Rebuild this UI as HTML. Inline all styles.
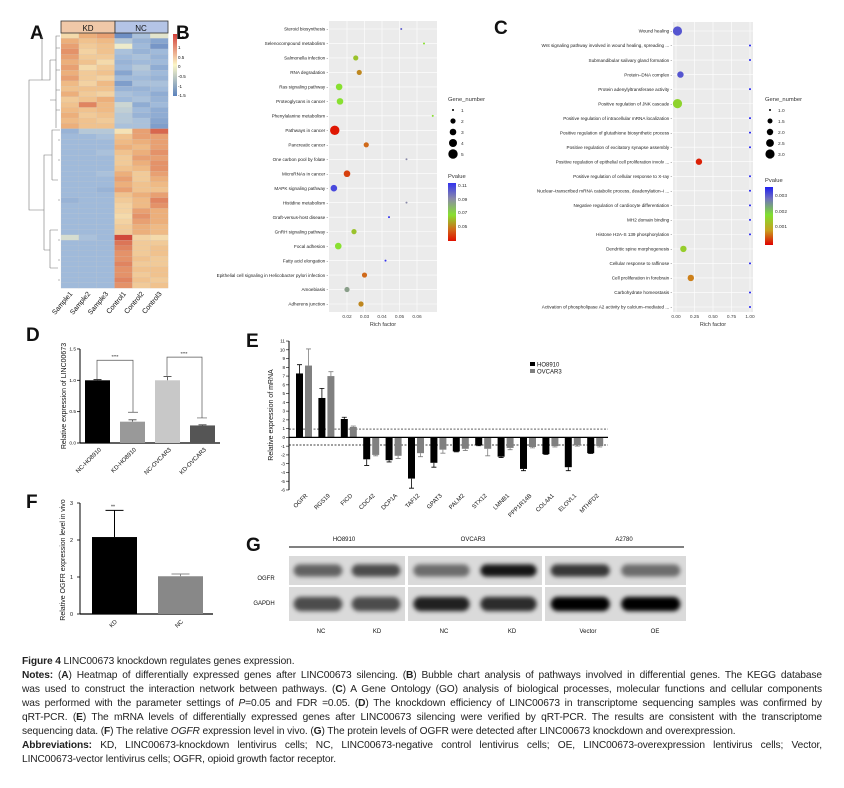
<!DOCTYPE html>
<html><head><meta charset="utf-8">
<style>
body{margin:0;background:#fff;}
#root{position:relative;width:844px;height:788px;overflow:hidden;background:#fff;font-family:"Liberation Sans",sans-serif;}
svg text{font-family:"Liberation Sans",sans-serif;}
.cap{position:absolute;left:22px;width:800px;font-size:10.2px;line-height:14px;color:#222;white-space:nowrap;overflow:hidden;letter-spacing:-0.1px;}
.j{text-align:justify;text-align-last:justify;white-space:normal;height:14px;}
</style></head>
<body>
<div id="root">
<svg id="fig" width="844" height="645" viewBox="0 0 844 645" style="position:absolute;left:0;top:0">
<defs>
<filter id="blur" x="-20%" y="-50%" width="140%" height="200%"><feGaussianBlur stdDeviation="2.2"/></filter>
<linearGradient id="hmgrad" x1="0" y1="0" x2="0" y2="1"><stop offset="0" stop-color="#d3403a"/><stop offset="0.5" stop-color="#fbf6c6"/><stop offset="1" stop-color="#5b82bd"/></linearGradient>
<linearGradient id="bgrad" x1="0" y1="0" x2="0" y2="1"><stop offset="0" stop-color="#3333ee"/><stop offset="0.27" stop-color="#8a8aa8"/><stop offset="0.55" stop-color="#88e030"/><stop offset="0.8" stop-color="#d06a1a"/><stop offset="1" stop-color="#e01000"/></linearGradient>
<linearGradient id="cgrad" x1="0" y1="0" x2="0" y2="1"><stop offset="0" stop-color="#2020f0"/><stop offset="0.2" stop-color="#7070c0"/><stop offset="0.48" stop-color="#80e030"/><stop offset="0.75" stop-color="#c8a020"/><stop offset="1" stop-color="#e00000"/></linearGradient>
</defs>
</svg>
<div class="cap" style="top:655px"><b>Figure 4</b> LINC00673 knockdown regulates genes expression.</div>
<div class="cap j" style="top:669px"><b>Notes:</b> (<b>A</b>) Heatmap of differentially expressed genes after LINC00673 silencing. (<b>B</b>) Bubble chart analysis of pathways involved in differential genes. The KEGG database</div>
<div class="cap j" style="top:683px">was used to construct the interaction network between pathways. (<b>C</b>) A Gene Ontology (GO) analysis of biological processes, molecular functions and cellular components</div>
<div class="cap j" style="top:697px">was performed with the parameter settings of <i>P</i>=0.05 and FDR =0.05. (<b>D</b>) The knockdown efficiency of LINC00673 in transcriptome sequencing samples was confirmed by</div>
<div class="cap j" style="top:711px">qRT-PCR. (<b>E</b>) The mRNA levels of differentially expressed genes after LINC00673 silencing were verified by qRT-PCR. The results are consistent with the transcriptome</div>
<div class="cap" style="top:725px">sequencing data. (<b>F</b>) The relative <i>OGFR</i> expression level in vivo. (<b>G</b>) The protein levels of OGFR were detected after LINC00673 knockdown and overexpression.</div>
<div class="cap j" style="top:739px"><b>Abbreviations:</b> KD, LINC00673-knockdown lentivirus cells; NC, LINC00673-negative control lentivirus cells; OE, LINC00673-overexpression lentivirus cells; Vector,</div>
<div class="cap" style="top:753px">LINC00673-vector lentivirus cells; OGFR, opioid growth factor receptor.</div>
</div>
<script>
// ---------- DATA ----------
const hmSamples = ["Sample1","Sample2","Sample3","Control1","Control2","Control3"];
const hmRows = [
[0.3,0.8,0.9,-1.4,-0.7,-0.2],[0.8,0.6,0.7,-0.6,-0.9,-1.1],[0.9,0.5,0.6,-0.1,-0.8,-1.3],[1.0,0.4,0.6,-0.7,-0.9,-0.8],
[0.9,0.5,0.5,-0.8,-0.7,-0.9],[0.8,0.6,0.3,-0.9,-0.8,-0.8],[0.9,0.3,0.5,-0.8,-0.6,-1.0],[0.8,0.5,0.6,-1.1,-0.7,-0.8],
[0.9,0.5,0.4,-0.8,-0.8,-0.9],[0.7,0.4,0.7,-1.2,-0.7,-0.7],[0.6,0.6,0.6,-0.9,-0.9,-0.8],[0.8,0.5,0.4,-0.7,-0.8,-1.0],
[0.5,0.6,0.8,-0.8,-0.7,-0.9],[0.6,1.1,0.7,-0.4,-1.0,-0.8],[0.7,0.6,0.7,-0.5,-0.8,-1.0],[0.8,0.5,0.6,-0.6,-0.9,-1.0],
[0.7,0.6,0.5,-0.6,-0.7,-1.1],[0.8,0.6,0.6,-0.7,-0.7,-1.2],
[-0.9,-0.6,-0.6,0.2,0.9,1.3],[-0.8,-0.8,-0.7,0.6,0.9,0.9],[-0.8,-0.8,-0.8,0.7,0.8,0.9],[-0.8,-0.8,-0.8,0.8,0.7,0.9],
[-0.8,-0.8,-0.7,0.6,0.8,1.0],[-0.8,-0.8,-0.8,0.5,0.9,0.9],[-0.8,-0.8,-0.8,0.5,0.8,1.0],[-0.8,-0.8,-0.8,0.6,0.7,1.0],
[-0.8,-0.8,-0.7,0.8,0.5,0.9],[-0.8,-0.8,-0.8,0.9,0.5,0.8],[-0.8,-0.8,-0.8,0.8,0.6,0.7],[-0.8,-0.8,-0.9,0.9,0.6,0.6],
[-0.8,-0.8,-0.8,0.6,0.8,0.9],[-0.9,-0.8,-0.8,0.5,0.7,1.1],[-0.8,-0.8,-0.8,0.4,0.7,1.0],[-0.8,-0.8,-0.8,0.4,0.9,0.8],
[-0.8,-0.8,-0.8,0.3,1.0,0.8],[-0.8,-0.8,-0.8,0.4,0.9,0.8],[-0.8,-0.8,-0.8,0.5,0.8,0.7],[-0.8,-0.8,-0.8,0.5,0.8,0.7],
[-0.3,-0.7,-0.8,1.5,0.4,0.3],[-0.8,-0.8,-0.8,1.2,0.5,0.5],[-0.8,-0.8,-0.8,1.1,0.5,0.6],[-0.8,-0.8,-0.8,1.0,0.5,0.6],
[-0.8,-0.8,-0.8,1.0,0.6,0.5],[-0.8,-0.8,-0.8,1.1,0.5,0.5],[-0.8,-0.8,-0.8,1.0,0.6,0.6],[-0.8,-0.8,-0.8,1.0,0.5,0.6],
[-0.8,-0.8,-0.8,1.1,0.6,0.5],[-0.8,-0.8,-0.8,1.0,0.5,0.6]
];
const bTerms = ["Steroid biosynthesis","Selenocompound metabolism","Salmonella infection","RNA degradation","Ras signaling pathway","Proteoglycans in cancer","Phenylalanine metabolism","Pathways in cancer","Pancreatic cancer","One carbon pool by folate","MicroRNAs in cancer","MAPK signaling pathway","Histidine metabolism","Graft-versus-host disease","GnRH signaling pathway","Focal adhesion","Fatty acid elongation","Epithelial cell signaling in Helicobacter pylori infection","Amoebiasis","Adherens junction"];
const bRich = [0.051,0.064,0.025,0.027,0.0155,0.016,0.069,0.013,0.031,0.054,0.020,0.0125,0.054,0.044,0.024,0.015,0.042,0.030,0.020,0.028];
const bGenes = [1,1,2,2,3,3,1,5,2,1,3,3,1,1,2,3,1,2,2,2];
const bPval = [0.10,0.07,0.065,0.055,0.07,0.07,0.07,0.036,0.05,0.09,0.043,0.105,0.09,0.11,0.065,0.07,0.11,0.05,0.085,0.055];
const bTicks = [0.02,0.03,0.04,0.05,0.06];
const cTerms = ["Wound healing","Wnt signaling pathway involved in wound healing, spreading ...","Submandibular salivary gland formation","Protein\u2013DNA complex","Protein adenylyltransferase activity","Positive regulation of JNK cascade","Positive regulation of intracellular mRNA localization","Positive regulation of glutathione biosynthetic process","Positive regulation of excitatory synapse assembly","Positive regulation of epithelial cell proliferation involv ...","Positive regulation of cellular response to X-ray","Nuclear\u2013transcribed mRNA catabolic process, deadenylation\u2013i ...","Negative regulation of cardiocyte differentiation","MH2 domain binding","Histone H2A-S 139 phosphorylation","Dendritic spine morphogenesis","Cellular response to raffinose","Cell proliferation in forebrain","Carbohydrate homeostasis","Activation of phospholipase A2 activity by calcium\u2013mediated ..."];
const cRich = [0.02,1,1,0.06,1,0.02,1,1,1,0.31,1,1,1,1,1,0.1,1,0.2,1,1];
const cGenes = [3,1,1,2,1,3,1,1,1,2,1,1,1,1,1,2,1,2,1,1];
const cPval = [0.0032,0.0036,0.0036,0.0032,0.0036,0.0018,0.0036,0.0036,0.0036,0.0002,0.0036,0.0036,0.0036,0.0036,0.0036,0.0017,0.0036,0.0008,0.0036,0.0036];
const cTicks = [0,0.25,0.5,0.75,1];
const dLabels = ["NC-HO8910","KD-HO8910","NC-OVCAR3","KD-OVCAR3"];
const dValues = [1.0,0.34,1.0,0.28];
const dErrors = [0.01,0.03,0.06,0.01];
const dTicks = [0,0.5,1.0,1.5];
const eGenes = ["OGFR","RGS19","FICD","CDC42","DCP1A","TAF12","GPAT3","PALM2","STX12","LMNB1","PPP1R14B","COL4A1","ELOVL1","MTHFD2"];
const eHO = [7.3,4.5,2.1,-2.5,-2.6,-4.7,-2.9,-1.6,-0.9,-2.2,-3.6,-1.9,-3.4,-1.8];
const eHOerr = [1.0,1.1,0.2,0.7,0.2,1.1,0.5,0.05,0.05,0.1,0.2,0.05,0.4,0.05];
const eOV = [8.2,7.0,1.2,-2.0,-2.1,-1.8,-1.4,-1.3,-1.3,-1.2,-1.1,-1.0,-0.9,-1.0];
const eOVerr = [1.9,0.5,0.1,0.1,0.3,0.4,0.4,0.2,0.8,0.2,0.1,0.1,0.1,0.1];
const eTicks = [11,10,9,8,7,6,5,4,3,2,1,0,-1,-2,-3,-4,-5,-6];
const fLabels = ["KD","NC"];
const fValues = [2.08,1.02];
const fErrors = [0.72,0.06];
const fTicks = [0,1,2,3];

// ---------- HELPERS ----------
const svg = document.getElementById('fig');
const NS = "http://www.w3.org/2000/svg";
function mk(tag, attrs, parent){const e=document.createElementNS(NS,tag);for(const k in attrs)e.setAttribute(k,attrs[k]);(parent||svg).appendChild(e);return e;}
function txt(s, x, y, size, anchor, parent, extra){const t=mk('text',Object.assign({x:x,y:y,'font-size':size,'text-anchor':anchor||'start',fill:'#111'},extra||{}),parent);t.textContent=s;return t;}
function lerpColor(stops, v){
  if(v<=stops[0][0])return stops[0][1];
  for(let i=1;i<stops.length;i++){if(v<=stops[i][0]){const a=stops[i-1],b=stops[i];const t=(v-a[0])/(b[0]-a[0]);return mixHex(a[1],b[1],t);}}
  return stops[stops.length-1][1];
}
function mixHex(a,b,t){const pa=[1,3,5].map(i=>parseInt(a.substr(i,2),16)),pb=[1,3,5].map(i=>parseInt(b.substr(i,2),16));return 'rgb('+pa.map((v,i)=>Math.round(v+(pb[i]-v)*t)).join(',')+')';}

// panel letters
[["A",30,39],["B",176,39],["C",494,34],["D",26,341],["E",246,347],["F",26,508],["G",246,551]].forEach(p=>{
  const t=txt(p[0],p[1],p[2],19,'start',null,{'font-weight':'bold'});
  
  
});

// ---------- PANEL A HEATMAP ----------
const gA = mk('g',{});


const hmX0=61, hmX1=168, hmY0=33, hmY1=288;
const cw=(hmX1-hmX0)/hmSamples.length, rh=(hmY1-hmY0)/hmRows.length;
const hmStops=[[-1.5,'#6688c0'],[-0.75,'#a4bedc'],[0,'#f8f2c8'],[0.75,'#eeb680'],[1.5,'#d04a3c']];
hmRows.forEach((row,ri)=>{row.forEach((v,ci)=>{
  const r=mk('rect',{x:hmX0+ci*cw,y:hmY0+ri*rh,width:cw+0.2,height:rh+0.2,fill:lerpColor(hmStops,v),stroke:'#c8c8c8','stroke-width':0.15},gA);
  
  
});});
const kdBox=mk('rect',{x:61,y:21,width:54,height:12,fill:'#f0c8a8',stroke:'#333','stroke-width':0.8},gA);


const ncBox=mk('rect',{x:115,y:21,width:53,height:12,fill:'#b4c4e6',stroke:'#333','stroke-width':0.8},gA);


txt('KD',88,31,8,'middle',gA);txt('NC',141,31,8,'middle',gA);
hmSamples.forEach((s,i)=>{const x=hmX0+(i+0.5)*cw+3;const t=txt(s,x,294,7,'end',gA,{transform:'rotate(-50 '+x+' 294)'});
  
  });
const cb=mk('rect',{x:173,y:34,width:4,height:62,fill:'url(#hmgrad)'},gA);


[["1.5",37],["1",47],["0.5",57],["0",66],["-0.5",76],["-1",86],["-1.5",95]].forEach(l=>txt(l[0],178,l[1]+2,4.5,'start',gA));
const den=mk('path',{d:'M60,36H56V128 M60,130H52V180 M52,155H44V250 M44,210H29V80H42V36 M42,80H50V60 M50,60H56 M50,100H56 M56,36H60 M52,180H58 M44,250H50V230 M50,230H58 M50,268H58 M50,250V268 M56,48H60 M56,70H60 M56,90H60 M56,110H60 M58,140H60 M58,160H60 M58,200H60 M58,240H60 M58,260H60 M58,280H60',fill:'none',stroke:'#777','stroke-width':0.6},gA);



// ---------- BUBBLE CHART HELPER ----------
function bubble(cfg){
  const g=mk('g',{});
  
  
  const bg=mk('rect',{x:cfg.x0,y:cfg.y0,width:cfg.x1-cfg.x0,height:cfg.y1-cfg.y0,fill:'#ebebeb'},g);
  
  
  const xs=v=>cfg.x0+cfg.pad+(v-cfg.dmin)/(cfg.dmax-cfg.dmin)*(cfg.x1-cfg.x0-2*cfg.pad);
  const ys=i=>cfg.ry0+i*(cfg.ry1-cfg.ry0)/(cfg.terms.length-1);
  cfg.ticks.forEach(t=>{mk('line',{x1:xs(t),x2:xs(t),y1:cfg.y0,y2:cfg.y1,stroke:'#fff','stroke-width':0.6},g);
    const tl=txt(cfg.fmt(t),xs(t),cfg.y1+6,4.8,'middle',g,{fill:'#444'});
    
    });
  cfg.terms.forEach((term,i)=>{mk('line',{x1:cfg.x0,x2:cfg.x1,y1:ys(i),y2:ys(i),stroke:'#fff','stroke-width':0.6},g);
    const tl=txt(term+' -',cfg.x0-1,ys(i)+1.7,cfg.fs,'end',g,{fill:'#222'});
    
    });
  cfg.terms.forEach((term,i)=>{
    const c=mk('circle',{cx:xs(cfg.rich[i]),cy:ys(i),r:cfg.rad(cfg.genes[i]),fill:lerpColor(cfg.stops,cfg.pval[i])},g);
    
    
  });
  const xt=txt('Rich factor',(cfg.x0+cfg.x1)/2,cfg.y1+14,5.5,'middle',g,{fill:'#333'});
  
  
  txt('Gene_number',cfg.lx,cfg.ly,5.8,'start',g,{fill:'#333'});
  cfg.legVals.forEach((v,i)=>{const cy=cfg.ly+9+i*11;
    const lc=mk('circle',{cx:cfg.lx+5,cy:cy,r:cfg.rad(v),fill:'#000'},g);
    
    
    txt(String(cfg.legLab[i]),cfg.lx+13,cy+2,4.8,'start',g,{fill:'#333'});});
  txt('Pvalue',cfg.lx,cfg.ply,5.8,'start',g,{fill:'#333'});
  const gr=mk('rect',{x:cfg.lx,y:cfg.ply+5,width:8,height:58,fill:cfg.grad},g);
  
  
  cfg.pLabs.forEach(p=>txt(p[0],cfg.lx+10,p[1],4.8,'start',g,{fill:'#333'}));
}
bubble({name:'kegg-bubble-chart',x0:329,x1:437,y0:21,y1:312,ry0:29,ry1:304,pad:0,dmin:0.02-(347-329)/1750,dmax:0.02-(347-329)/1750+108/1750,
  terms:bTerms,rich:bRich,genes:bGenes,pval:bPval,ticks:bTicks,fmt:t=>t.toFixed(2),fs:4.6,
  rad:n=>n<=1?1:1.2+0.7*n,
  stops:[[0.035,'#e01000'],[0.05,'#d06a1a'],[0.07,'#88e030'],[0.09,'#8a8aa8'],[0.11,'#3333ee']],
  lx:448,ly:101,legVals:[1,2,3,4,5],legLab:[1,2,3,4,5],ply:178,grad:'url(#bgrad)',
  pLabs:[["0.11",187],["0.09",201],["0.07",214],["0.05",228]]});
bubble({name:'go-bubble-chart',x0:673,x1:753,y0:22,y1:312,ry0:31,ry1:307,pad:3,dmin:0,dmax:1,
  terms:cTerms,rich:cRich,genes:cGenes,pval:cPval,ticks:cTicks,fmt:t=>t.toFixed(2),fs:4.6,
  rad:n=>n<=1?1:1.4*n+0.4,
  stops:[[0,'#e00000'],[0.001,'#c8a020'],[0.002,'#80e030'],[0.003,'#7070c0'],[0.0036,'#2020f0']],
  lx:765,ly:101,legVals:[1,1.5,2,2.5,3],legLab:["1.0","1.5","2.0","2.5","3.0"],ply:182,grad:'url(#cgrad)',
  pLabs:[["0.003",197],["0.002",213],["0.001",228]]});

// ---------- PANEL D ----------
(function(){
  const g=mk('g',{});
  
  
  const y=v=>443-v*62.7;
  const bx=[85,120,155,190], fills=['#000','#999','#c8c8c8','#555'];
  mk('line',{x1:80,x2:80,y1:y(1.5),y2:443,stroke:'#000','stroke-width':1},g);
  mk('line',{x1:80,x2:220,y1:443,y2:443,stroke:'#000','stroke-width':1.2},g);
  dTicks.forEach(t=>{mk('line',{x1:77,x2:80,y1:y(t),y2:y(t),stroke:'#000','stroke-width':0.8},g);txt(t.toFixed(1),76,y(t)+1.5,4.8,'end',g);});
  dValues.forEach((v,i)=>{
    const r=mk('rect',{x:bx[i],y:y(v),width:25,height:443-y(v),fill:fills[i]},g);
    
    
    const cx=bx[i]+12.5, e=v+dErrors[i];
    mk('path',{d:`M${cx},${y(v)}V${y(e)}M${cx-4},${y(e)}H${cx+4}`,stroke:fills[i]==='#000'?'#000':'#444','stroke-width':0.8,fill:'none'},g);
    const lx=cx+4;
    const t=txt(dLabels[i],lx,450,6,'end',g,{transform:`rotate(-45 ${lx} 450)`});
    
    
  });
  mk('path',{d:`M97,${y(1.02)}V${y(1.32)}H133V${y(0.49)}M128,${y(0.49)}H138`,stroke:'#555','stroke-width':0.7,fill:'none'},g);
  mk('path',{d:`M167,${y(1.07)}V${y(1.37)}H202V${y(0.4)}M197,${y(0.4)}H207`,stroke:'#555','stroke-width':0.7,fill:'none'},g);
  txt('****',115,y(1.32)-2,4.5,'middle',g);txt('****',184,y(1.37)-2,4.5,'middle',g);
  const yt=txt('Relative expression of LINC00673',66,396,7,'middle',g,{transform:'rotate(-90 66 396)'});
  
  
})();

// ---------- PANEL E ----------
(function(){
  const g=mk('g',{});
  
  
  const y=v=>437.4-v*8.76;
  const cx=i=>304+i*22.4;
  mk('line',{x1:289,x2:289,y1:y(11),y2:y(-6),stroke:'#000','stroke-width':1},g);
  eTicks.forEach(t=>{mk('line',{x1:286,x2:289,y1:y(t),y2:y(t),stroke:'#000','stroke-width':0.6},g);txt(String(t),285,y(t)+1.6,4.6,'end',g);});
  mk('line',{x1:289,x2:608,y1:y(0.95),y2:y(0.95),stroke:'#000','stroke-width':0.7,'stroke-dasharray':'2,1.5'},g);
  mk('line',{x1:289,x2:608,y1:y(-0.87),y2:y(-0.87),stroke:'#000','stroke-width':0.7,'stroke-dasharray':'2,1.5'},g);
  function bar(v,err,x,fill,name){
    const r=mk('rect',{x:x,y:Math.min(y(v),y(0)),width:7,height:Math.abs(y(v)-y(0)),fill:fill},g);
    
    
    const e=v+(v>=0?err:-err), c=x+3.5;
    mk('path',{d:`M${c},${y(v)}V${y(e)}M${c-2.5},${y(e)}H${c+2.5}`,stroke:fill,'stroke-width':0.8,fill:'none'},g);
  }
  eGenes.forEach((gname,i)=>{
    bar(eHO[i],eHOerr[i],cx(i)-8,'#000','bar-ho8910-'+gname.toLowerCase());
    bar(eOV[i],eOVerr[i],cx(i)+1,'#808080','bar-ovcar3-'+gname.toLowerCase());
    const lx=cx(i)+4;
    const t=txt(gname,lx,496,6,'end',g,{transform:`rotate(-45 ${lx} 496)`});
    
    
  });
  mk('line',{x1:289,x2:608,y1:y(0),y2:y(0),stroke:'#000','stroke-width':1.2},g);
  const yt=txt('Relative expression of mRNA',273,415,7,'middle',g,{transform:'rotate(-90 273 415)'});
  
  
  const l1=mk('rect',{x:530,y:362,width:5,height:4,fill:'#000'},g);
  
  
  txt('HO8910',537,366.5,6,'start',g);
  const l2=mk('rect',{x:530,y:369,width:5,height:4,fill:'#808080'},g);
  
  
  txt('OVCAR3',537,373.5,6,'start',g);
})();

// ---------- PANEL F ----------
(function(){
  const g=mk('g',{});
  
  
  const y=v=>614-v*37;
  const bx=[92,158], fills=['#000','#888'];
  mk('line',{x1:80,x2:80,y1:y(3),y2:614,stroke:'#000','stroke-width':1},g);
  mk('line',{x1:80,x2:213,y1:614,y2:614,stroke:'#000','stroke-width':1.2},g);
  fTicks.forEach(t=>{mk('line',{x1:77,x2:80,y1:y(t),y2:y(t),stroke:'#000','stroke-width':0.8},g);txt(String(t),73,y(t)+2,5.5,'end',g);});
  fValues.forEach((v,i)=>{
    const r=mk('rect',{x:bx[i],y:y(v),width:45,height:614-y(v),fill:fills[i]},g);
    
    
    const cx=bx[i]+22.5,e=v+fErrors[i];
    mk('path',{d:`M${cx},${y(v)}V${y(e)}M${cx-9},${y(e)}H${cx+9}`,stroke:fills[i],'stroke-width':1,fill:'none'},g);
    const lx=cx+3;
    const t=txt(fLabels[i],lx,622,6,'end',g,{transform:`rotate(-45 ${lx} 622)`});
    
    
  });
  txt('**',113,y(2.8)-2,5,'middle',g);
  const yt=txt('Relative  OGFR expression level in vivo',65,560,7,'middle',g,{transform:'rotate(-90 65 560)'});
  
  
})();

// ---------- PANEL G WESTERN BLOT ----------
(function(){
  const g=mk('g',{});
  
  
  mk('line',{x1:289,x2:684,y1:547,y2:547,stroke:'#000','stroke-width':1},g);
  [["HO8910",344],["OVCAR3",473],["A2780",624]].forEach(l=>txt(l[0],l[1],541,6,'middle',g));
  txt('OGFR',266,580,6,'middle',g);txt('GAPDH',264,605,6,'middle',g);
  const panels=[[289,405],[408,542],[545,686]];
  const rows=[[556,585],[587,621]];
  const bands=[[[0.55,0.65],[0.65,0.65]],[[0.5,0.9],[0.85,0.8]],[[0.75,0.5],[1,1]]];
  panels.forEach((p,pi)=>{rows.forEach((r,ri)=>{
    const bg=mk('rect',{x:p[0],y:r[0],width:p[1]-p[0],height:r[1]-r[0],fill:'#dadada'},g);
    
    
    [0,1].forEach(l=>{const w=(p[1]-p[0])/2;const cx=p[0]+w*(l+0.5);const inten=bands[pi][ri][l];
      const h=(r[1]-r[0])*0.42;
      const e=mk('rect',{x:cx-w*0.42,y:(r[0]+r[1])/2-h/2,width:w*0.84,height:h,rx:h/2,fill:'#000','fill-opacity':inten,filter:'url(#blur)'},g);
      
      });
  });});
  [["NC",321],["KD",377],["NC",444],["KD",512],["Vector",588],["OE",655]].forEach(l=>txt(l[0],l[1],633,6,'middle',g));
})();
</script>
</body></html>
